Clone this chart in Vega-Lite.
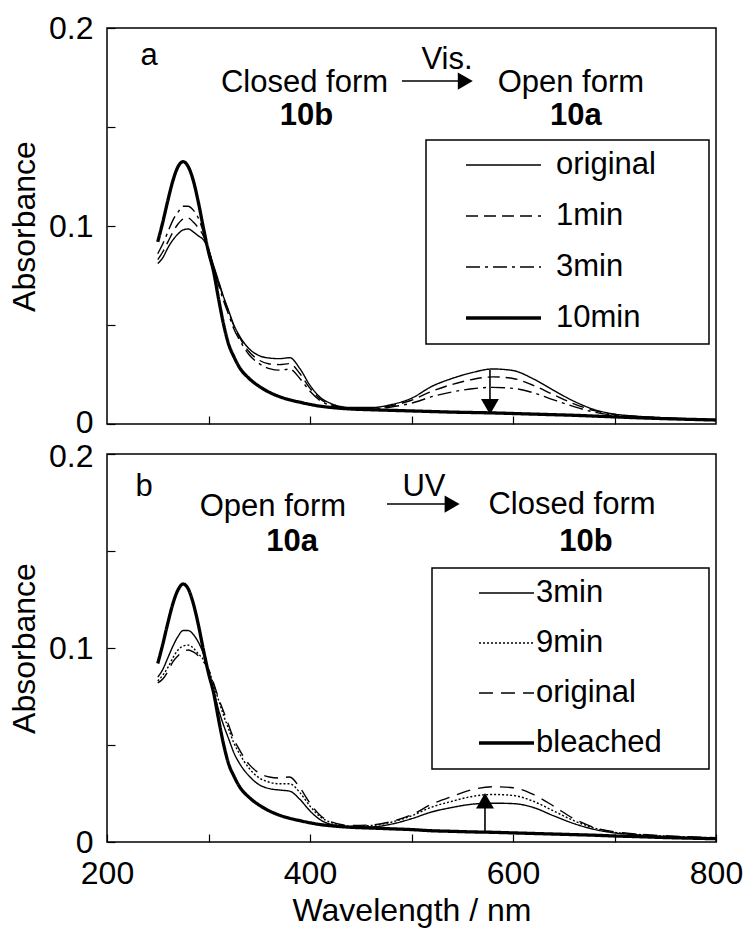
{
  "$schema": "https://vega.github.io/schema/vega-lite/v6.json",
  "background": "white",
  "padding": {"left": 7, "top": 11, "right": 2, "bottom": 2},
  "config": {
    "font": "Liberation Sans",
    "view": {"stroke": "black", "strokeWidth": 1.5},
    "axis": {"domain": false, "grid": false, "tickColor": "black", "tickWidth": 1.2, "labelColor": "black", "titleColor": "black", "labelFontSize": 32, "titleFontSize": 32, "titleFontWeight": "normal", "labelFont": "Liberation Sans", "titleFont": "Liberation Sans", "labelFlush": false},
    "legend": {"labelFont": "Liberation Sans", "labelColor": "black"}
  },
  "spacing": 30,
  "bounds": "flush",
  "resolve": {"scale": {"x": "independent", "y": "independent", "strokeDash": "independent"}, "legend": {"strokeDash": "independent"}},
  "datasets": {
    "a": [
      {"series":"10min","wavelength":250,"absorbance":0.092},{"series":"10min","wavelength":255,"absorbance":0.102},{"series":"10min","wavelength":260,"absorbance":0.113},{"series":"10min","wavelength":265,"absorbance":0.123},{"series":"10min","wavelength":270,"absorbance":0.130},{"series":"10min","wavelength":275,"absorbance":0.1325},{"series":"10min","wavelength":280,"absorbance":0.130},{"series":"10min","wavelength":285,"absorbance":0.123},{"series":"10min","wavelength":290,"absorbance":0.112},{"series":"10min","wavelength":295,"absorbance":0.099},{"series":"10min","wavelength":300,"absorbance":0.087},{"series":"10min","wavelength":305,"absorbance":0.077},{"series":"10min","wavelength":310,"absorbance":0.063},{"series":"10min","wavelength":315,"absorbance":0.050},{"series":"10min","wavelength":320,"absorbance":0.040},{"series":"10min","wavelength":325,"absorbance":0.034},{"series":"10min","wavelength":330,"absorbance":0.029},{"series":"10min","wavelength":340,"absorbance":0.023},{"series":"10min","wavelength":350,"absorbance":0.019},{"series":"10min","wavelength":360,"absorbance":0.016},{"series":"10min","wavelength":370,"absorbance":0.0138},{"series":"10min","wavelength":380,"absorbance":0.0122},{"series":"10min","wavelength":390,"absorbance":0.011},{"series":"10min","wavelength":400,"absorbance":0.0099},{"series":"10min","wavelength":410,"absorbance":0.009},{"series":"10min","wavelength":420,"absorbance":0.0084},{"series":"10min","wavelength":440,"absorbance":0.0076},{"series":"10min","wavelength":460,"absorbance":0.0072},{"series":"10min","wavelength":480,"absorbance":0.0069},{"series":"10min","wavelength":500,"absorbance":0.0066},{"series":"10min","wavelength":520,"absorbance":0.0063},{"series":"10min","wavelength":540,"absorbance":0.006},{"series":"10min","wavelength":560,"absorbance":0.0058},{"series":"10min","wavelength":580,"absorbance":0.0056},{"series":"10min","wavelength":600,"absorbance":0.0053},{"series":"10min","wavelength":620,"absorbance":0.005},{"series":"10min","wavelength":640,"absorbance":0.0047},{"series":"10min","wavelength":660,"absorbance":0.0044},{"series":"10min","wavelength":680,"absorbance":0.004},{"series":"10min","wavelength":700,"absorbance":0.0036},{"series":"10min","wavelength":720,"absorbance":0.0032},{"series":"10min","wavelength":750,"absorbance":0.0027},{"series":"10min","wavelength":800,"absorbance":0.002},
      {"series":"original","wavelength":250,"absorbance":0.081},{"series":"original","wavelength":255,"absorbance":0.084},{"series":"original","wavelength":260,"absorbance":0.089},{"series":"original","wavelength":265,"absorbance":0.093},{"series":"original","wavelength":270,"absorbance":0.096},{"series":"original","wavelength":275,"absorbance":0.098},{"series":"original","wavelength":280,"absorbance":0.0985},{"series":"original","wavelength":285,"absorbance":0.097},{"series":"original","wavelength":290,"absorbance":0.095},{"series":"original","wavelength":295,"absorbance":0.093},{"series":"original","wavelength":300,"absorbance":0.088},{"series":"original","wavelength":305,"absorbance":0.080},{"series":"original","wavelength":310,"absorbance":0.072},{"series":"original","wavelength":315,"absorbance":0.064},{"series":"original","wavelength":320,"absorbance":0.057},{"series":"original","wavelength":325,"absorbance":0.050},{"series":"original","wavelength":330,"absorbance":0.045},{"series":"original","wavelength":340,"absorbance":0.038},{"series":"original","wavelength":350,"absorbance":0.0345},{"series":"original","wavelength":360,"absorbance":0.0333},{"series":"original","wavelength":370,"absorbance":0.033},{"series":"original","wavelength":380,"absorbance":0.0335},{"series":"original","wavelength":390,"absorbance":0.028},{"series":"original","wavelength":400,"absorbance":0.0195},{"series":"original","wavelength":410,"absorbance":0.0135},{"series":"original","wavelength":420,"absorbance":0.0105},{"series":"original","wavelength":440,"absorbance":0.0083},{"series":"original","wavelength":460,"absorbance":0.0083},{"series":"original","wavelength":480,"absorbance":0.0098},{"series":"original","wavelength":500,"absorbance":0.013},{"series":"original","wavelength":520,"absorbance":0.019},{"series":"original","wavelength":540,"absorbance":0.023},{"series":"original","wavelength":560,"absorbance":0.026},{"series":"original","wavelength":580,"absorbance":0.0278},{"series":"original","wavelength":600,"absorbance":0.027},{"series":"original","wavelength":620,"absorbance":0.0228},{"series":"original","wavelength":640,"absorbance":0.017},{"series":"original","wavelength":660,"absorbance":0.0115},{"series":"original","wavelength":680,"absorbance":0.0073},{"series":"original","wavelength":700,"absorbance":0.005},{"series":"original","wavelength":720,"absorbance":0.004},{"series":"original","wavelength":750,"absorbance":0.0031},{"series":"original","wavelength":800,"absorbance":0.0022},
      {"series":"1min","wavelength":250,"absorbance":0.083},{"series":"1min","wavelength":255,"absorbance":0.087},{"series":"1min","wavelength":260,"absorbance":0.092},{"series":"1min","wavelength":265,"absorbance":0.097},{"series":"1min","wavelength":270,"absorbance":0.101},{"series":"1min","wavelength":275,"absorbance":0.1035},{"series":"1min","wavelength":280,"absorbance":0.104},{"series":"1min","wavelength":285,"absorbance":0.102},{"series":"1min","wavelength":290,"absorbance":0.099},{"series":"1min","wavelength":295,"absorbance":0.095},{"series":"1min","wavelength":300,"absorbance":0.088},{"series":"1min","wavelength":305,"absorbance":0.0795},{"series":"1min","wavelength":310,"absorbance":0.0715},{"series":"1min","wavelength":315,"absorbance":0.0635},{"series":"1min","wavelength":320,"absorbance":0.0565},{"series":"1min","wavelength":325,"absorbance":0.0495},{"series":"1min","wavelength":330,"absorbance":0.0443},{"series":"1min","wavelength":340,"absorbance":0.0365},{"series":"1min","wavelength":350,"absorbance":0.0322},{"series":"1min","wavelength":360,"absorbance":0.0303},{"series":"1min","wavelength":370,"absorbance":0.030},{"series":"1min","wavelength":380,"absorbance":0.0305},{"series":"1min","wavelength":390,"absorbance":0.0255},{"series":"1min","wavelength":400,"absorbance":0.018},{"series":"1min","wavelength":410,"absorbance":0.0127},{"series":"1min","wavelength":420,"absorbance":0.0099},{"series":"1min","wavelength":440,"absorbance":0.008},{"series":"1min","wavelength":460,"absorbance":0.008},{"series":"1min","wavelength":480,"absorbance":0.0092},{"series":"1min","wavelength":500,"absorbance":0.012},{"series":"1min","wavelength":520,"absorbance":0.0165},{"series":"1min","wavelength":540,"absorbance":0.020},{"series":"1min","wavelength":560,"absorbance":0.0225},{"series":"1min","wavelength":580,"absorbance":0.0238},{"series":"1min","wavelength":600,"absorbance":0.023},{"series":"1min","wavelength":620,"absorbance":0.0195},{"series":"1min","wavelength":640,"absorbance":0.0148},{"series":"1min","wavelength":660,"absorbance":0.0102},{"series":"1min","wavelength":680,"absorbance":0.0068},{"series":"1min","wavelength":700,"absorbance":0.0048},{"series":"1min","wavelength":720,"absorbance":0.0039},{"series":"1min","wavelength":750,"absorbance":0.003},{"series":"1min","wavelength":800,"absorbance":0.0022},
      {"series":"3min","wavelength":250,"absorbance":0.086},{"series":"3min","wavelength":255,"absorbance":0.091},{"series":"3min","wavelength":260,"absorbance":0.097},{"series":"3min","wavelength":265,"absorbance":0.103},{"series":"3min","wavelength":270,"absorbance":0.107},{"series":"3min","wavelength":275,"absorbance":0.110},{"series":"3min","wavelength":280,"absorbance":0.110},{"series":"3min","wavelength":285,"absorbance":0.108},{"series":"3min","wavelength":290,"absorbance":0.104},{"series":"3min","wavelength":295,"absorbance":0.097},{"series":"3min","wavelength":300,"absorbance":0.088},{"series":"3min","wavelength":305,"absorbance":0.079},{"series":"3min","wavelength":310,"absorbance":0.070},{"series":"3min","wavelength":315,"absorbance":0.062},{"series":"3min","wavelength":320,"absorbance":0.055},{"series":"3min","wavelength":325,"absorbance":0.048},{"series":"3min","wavelength":330,"absorbance":0.043},{"series":"3min","wavelength":340,"absorbance":0.035},{"series":"3min","wavelength":350,"absorbance":0.0305},{"series":"3min","wavelength":360,"absorbance":0.028},{"series":"3min","wavelength":370,"absorbance":0.0272},{"series":"3min","wavelength":380,"absorbance":0.0277},{"series":"3min","wavelength":390,"absorbance":0.023},{"series":"3min","wavelength":400,"absorbance":0.0165},{"series":"3min","wavelength":410,"absorbance":0.0118},{"series":"3min","wavelength":420,"absorbance":0.0094},{"series":"3min","wavelength":440,"absorbance":0.0078},{"series":"3min","wavelength":460,"absorbance":0.0077},{"series":"3min","wavelength":480,"absorbance":0.0086},{"series":"3min","wavelength":500,"absorbance":0.0105},{"series":"3min","wavelength":520,"absorbance":0.0138},{"series":"3min","wavelength":540,"absorbance":0.0162},{"series":"3min","wavelength":560,"absorbance":0.0178},{"series":"3min","wavelength":580,"absorbance":0.0185},{"series":"3min","wavelength":600,"absorbance":0.018},{"series":"3min","wavelength":620,"absorbance":0.0158},{"series":"3min","wavelength":640,"absorbance":0.0122},{"series":"3min","wavelength":660,"absorbance":0.0088},{"series":"3min","wavelength":680,"absorbance":0.006},{"series":"3min","wavelength":700,"absorbance":0.0044},{"series":"3min","wavelength":720,"absorbance":0.0036},{"series":"3min","wavelength":750,"absorbance":0.0029},{"series":"3min","wavelength":800,"absorbance":0.0021}
    ],
    "b": [
      {"series":"bleached","wavelength":250,"absorbance":0.092},{"series":"bleached","wavelength":255,"absorbance":0.102},{"series":"bleached","wavelength":260,"absorbance":0.113},{"series":"bleached","wavelength":265,"absorbance":0.123},{"series":"bleached","wavelength":270,"absorbance":0.130},{"series":"bleached","wavelength":275,"absorbance":0.133},{"series":"bleached","wavelength":280,"absorbance":0.1305},{"series":"bleached","wavelength":285,"absorbance":0.123},{"series":"bleached","wavelength":290,"absorbance":0.112},{"series":"bleached","wavelength":295,"absorbance":0.099},{"series":"bleached","wavelength":300,"absorbance":0.087},{"series":"bleached","wavelength":305,"absorbance":0.077},{"series":"bleached","wavelength":310,"absorbance":0.063},{"series":"bleached","wavelength":315,"absorbance":0.050},{"series":"bleached","wavelength":320,"absorbance":0.040},{"series":"bleached","wavelength":325,"absorbance":0.034},{"series":"bleached","wavelength":330,"absorbance":0.029},{"series":"bleached","wavelength":340,"absorbance":0.023},{"series":"bleached","wavelength":350,"absorbance":0.019},{"series":"bleached","wavelength":360,"absorbance":0.016},{"series":"bleached","wavelength":370,"absorbance":0.0138},{"series":"bleached","wavelength":380,"absorbance":0.0122},{"series":"bleached","wavelength":390,"absorbance":0.011},{"series":"bleached","wavelength":400,"absorbance":0.0099},{"series":"bleached","wavelength":410,"absorbance":0.009},{"series":"bleached","wavelength":420,"absorbance":0.0084},{"series":"bleached","wavelength":440,"absorbance":0.0076},{"series":"bleached","wavelength":460,"absorbance":0.0072},{"series":"bleached","wavelength":480,"absorbance":0.0068},{"series":"bleached","wavelength":500,"absorbance":0.0064},{"series":"bleached","wavelength":520,"absorbance":0.0058},{"series":"bleached","wavelength":540,"absorbance":0.0055},{"series":"bleached","wavelength":560,"absorbance":0.0052},{"series":"bleached","wavelength":580,"absorbance":0.005},{"series":"bleached","wavelength":600,"absorbance":0.0047},{"series":"bleached","wavelength":620,"absorbance":0.0044},{"series":"bleached","wavelength":640,"absorbance":0.0041},{"series":"bleached","wavelength":660,"absorbance":0.0038},{"series":"bleached","wavelength":680,"absorbance":0.0035},{"series":"bleached","wavelength":700,"absorbance":0.0031},{"series":"bleached","wavelength":720,"absorbance":0.0028},{"series":"bleached","wavelength":750,"absorbance":0.0023},{"series":"bleached","wavelength":800,"absorbance":0.0017},
      {"series":"3min","wavelength":250,"absorbance":0.085},{"series":"3min","wavelength":255,"absorbance":0.089},{"series":"3min","wavelength":260,"absorbance":0.095},{"series":"3min","wavelength":265,"absorbance":0.101},{"series":"3min","wavelength":270,"absorbance":0.106},{"series":"3min","wavelength":275,"absorbance":0.109},{"series":"3min","wavelength":280,"absorbance":0.109},{"series":"3min","wavelength":285,"absorbance":0.107},{"series":"3min","wavelength":290,"absorbance":0.103},{"series":"3min","wavelength":295,"absorbance":0.097},{"series":"3min","wavelength":300,"absorbance":0.088},{"series":"3min","wavelength":305,"absorbance":0.078},{"series":"3min","wavelength":310,"absorbance":0.068},{"series":"3min","wavelength":315,"absorbance":0.060},{"series":"3min","wavelength":320,"absorbance":0.053},{"series":"3min","wavelength":325,"absorbance":0.046},{"series":"3min","wavelength":330,"absorbance":0.041},{"series":"3min","wavelength":340,"absorbance":0.034},{"series":"3min","wavelength":350,"absorbance":0.0295},{"series":"3min","wavelength":360,"absorbance":0.0275},{"series":"3min","wavelength":370,"absorbance":0.0268},{"series":"3min","wavelength":380,"absorbance":0.0262},{"series":"3min","wavelength":390,"absorbance":0.022},{"series":"3min","wavelength":400,"absorbance":0.016},{"series":"3min","wavelength":410,"absorbance":0.0115},{"series":"3min","wavelength":420,"absorbance":0.0092},{"series":"3min","wavelength":440,"absorbance":0.0078},{"series":"3min","wavelength":460,"absorbance":0.0078},{"series":"3min","wavelength":480,"absorbance":0.0092},{"series":"3min","wavelength":500,"absorbance":0.012},{"series":"3min","wavelength":520,"absorbance":0.0155},{"series":"3min","wavelength":540,"absorbance":0.0178},{"series":"3min","wavelength":560,"absorbance":0.0195},{"series":"3min","wavelength":580,"absorbance":0.020},{"series":"3min","wavelength":600,"absorbance":0.0198},{"series":"3min","wavelength":620,"absorbance":0.0178},{"series":"3min","wavelength":640,"absorbance":0.0135},{"series":"3min","wavelength":660,"absorbance":0.0095},{"series":"3min","wavelength":680,"absorbance":0.0065},{"series":"3min","wavelength":700,"absorbance":0.0047},{"series":"3min","wavelength":720,"absorbance":0.0038},{"series":"3min","wavelength":750,"absorbance":0.0028},{"series":"3min","wavelength":800,"absorbance":0.0018},
      {"series":"9min","wavelength":250,"absorbance":0.083},{"series":"9min","wavelength":255,"absorbance":0.086},{"series":"9min","wavelength":260,"absorbance":0.090},{"series":"9min","wavelength":265,"absorbance":0.095},{"series":"9min","wavelength":270,"absorbance":0.099},{"series":"9min","wavelength":275,"absorbance":0.101},{"series":"9min","wavelength":280,"absorbance":0.1015},{"series":"9min","wavelength":285,"absorbance":0.100},{"series":"9min","wavelength":290,"absorbance":0.097},{"series":"9min","wavelength":295,"absorbance":0.094},{"series":"9min","wavelength":300,"absorbance":0.089},{"series":"9min","wavelength":305,"absorbance":0.081},{"series":"9min","wavelength":310,"absorbance":0.073},{"series":"9min","wavelength":315,"absorbance":0.065},{"series":"9min","wavelength":320,"absorbance":0.058},{"series":"9min","wavelength":325,"absorbance":0.051},{"series":"9min","wavelength":330,"absorbance":0.046},{"series":"9min","wavelength":340,"absorbance":0.038},{"series":"9min","wavelength":350,"absorbance":0.033},{"series":"9min","wavelength":360,"absorbance":0.0308},{"series":"9min","wavelength":370,"absorbance":0.030},{"series":"9min","wavelength":380,"absorbance":0.030},{"series":"9min","wavelength":390,"absorbance":0.0255},{"series":"9min","wavelength":400,"absorbance":0.0185},{"series":"9min","wavelength":410,"absorbance":0.013},{"series":"9min","wavelength":420,"absorbance":0.0102},{"series":"9min","wavelength":440,"absorbance":0.0082},{"series":"9min","wavelength":460,"absorbance":0.0085},{"series":"9min","wavelength":480,"absorbance":0.0102},{"series":"9min","wavelength":500,"absorbance":0.0135},{"series":"9min","wavelength":520,"absorbance":0.018},{"series":"9min","wavelength":540,"absorbance":0.021},{"series":"9min","wavelength":560,"absorbance":0.0235},{"series":"9min","wavelength":580,"absorbance":0.0245},{"series":"9min","wavelength":600,"absorbance":0.024},{"series":"9min","wavelength":620,"absorbance":0.021},{"series":"9min","wavelength":640,"absorbance":0.016},{"series":"9min","wavelength":660,"absorbance":0.011},{"series":"9min","wavelength":680,"absorbance":0.0072},{"series":"9min","wavelength":700,"absorbance":0.005},{"series":"9min","wavelength":720,"absorbance":0.004},{"series":"9min","wavelength":750,"absorbance":0.003},{"series":"9min","wavelength":800,"absorbance":0.002},
      {"series":"original","wavelength":250,"absorbance":0.082},{"series":"original","wavelength":255,"absorbance":0.084},{"series":"original","wavelength":260,"absorbance":0.088},{"series":"original","wavelength":265,"absorbance":0.093},{"series":"original","wavelength":270,"absorbance":0.096},{"series":"original","wavelength":275,"absorbance":0.098},{"series":"original","wavelength":280,"absorbance":0.099},{"series":"original","wavelength":285,"absorbance":0.098},{"series":"original","wavelength":290,"absorbance":0.096},{"series":"original","wavelength":295,"absorbance":0.093},{"series":"original","wavelength":300,"absorbance":0.089},{"series":"original","wavelength":305,"absorbance":0.082},{"series":"original","wavelength":310,"absorbance":0.074},{"series":"original","wavelength":315,"absorbance":0.067},{"series":"original","wavelength":320,"absorbance":0.060},{"series":"original","wavelength":325,"absorbance":0.053},{"series":"original","wavelength":330,"absorbance":0.048},{"series":"original","wavelength":340,"absorbance":0.040},{"series":"original","wavelength":350,"absorbance":0.0355},{"series":"original","wavelength":360,"absorbance":0.0335},{"series":"original","wavelength":370,"absorbance":0.033},{"series":"original","wavelength":380,"absorbance":0.0335},{"series":"original","wavelength":390,"absorbance":0.028},{"series":"original","wavelength":400,"absorbance":0.020},{"series":"original","wavelength":410,"absorbance":0.0138},{"series":"original","wavelength":420,"absorbance":0.0105},{"series":"original","wavelength":440,"absorbance":0.0085},{"series":"original","wavelength":460,"absorbance":0.0088},{"series":"original","wavelength":480,"absorbance":0.0105},{"series":"original","wavelength":500,"absorbance":0.014},{"series":"original","wavelength":520,"absorbance":0.0195},{"series":"original","wavelength":540,"absorbance":0.0235},{"series":"original","wavelength":560,"absorbance":0.027},{"series":"original","wavelength":580,"absorbance":0.0285},{"series":"original","wavelength":600,"absorbance":0.028},{"series":"original","wavelength":620,"absorbance":0.0245},{"series":"original","wavelength":640,"absorbance":0.0185},{"series":"original","wavelength":660,"absorbance":0.012},{"series":"original","wavelength":680,"absorbance":0.0075},{"series":"original","wavelength":700,"absorbance":0.0052},{"series":"original","wavelength":720,"absorbance":0.0042},{"series":"original","wavelength":750,"absorbance":0.0032},{"series":"original","wavelength":800,"absorbance":0.0022}
    ],
    "annA": [
      {"kind":"text","label":"a","wavelength":241.4,"absorbance":0.1813},
      {"kind":"text","label":"Closed form","wavelength":394.6,"absorbance":0.1677},
      {"kind":"text","label":"Vis.","wavelength":535,"absorbance":0.1793},
      {"kind":"text","label":"Open form","wavelength":657,"absorbance":0.1677},
      {"kind":"bold","label":"10b","wavelength":396.6,"absorbance":0.151},
      {"kind":"bold","label":"10a","wavelength":662,"absorbance":0.151},
      {"kind":"rule","wavelength":490.6,"wavelength2":553,"absorbance":0.1732,"absorbance2":0.1732},
      {"kind":"right","wavelength":553,"absorbance":0.1732},
      {"kind":"rule","wavelength":577.3,"wavelength2":577.3,"absorbance":0.0273,"absorbance2":0.01},
      {"kind":"down","wavelength":577.3,"absorbance":0.0087},
      {"kind":"box","wavelength":514.3,"wavelength2":793.1,"absorbance":0.1434,"absorbance2":0.0404}
    ],
    "annB": [
      {"kind":"text","label":"b","wavelength":236.5,"absorbance":0.1784},
      {"kind":"text","label":"Open form","wavelength":363.5,"absorbance":0.168},
      {"kind":"text","label":"UV","wavelength":512.3,"absorbance":0.1784},
      {"kind":"text","label":"Closed form","wavelength":658.1,"absorbance":0.169},
      {"kind":"bold","label":"10a","wavelength":382.3,"absorbance":0.15},
      {"kind":"bold","label":"10b","wavelength":671.9,"absorbance":0.15},
      {"kind":"rule","wavelength":475.9,"wavelength2":540,"absorbance":0.1742,"absorbance2":0.1742},
      {"kind":"right","wavelength":540,"absorbance":0.1742},
      {"kind":"rule","wavelength":572.4,"wavelength2":572.4,"absorbance":0.0052,"absorbance2":0.02},
      {"kind":"up","wavelength":572.4,"absorbance":0.0213},
      {"kind":"box","wavelength":520.2,"wavelength2":793.1,"absorbance":0.1412,"absorbance2":0.0376}
    ]
  },
  "vconcat": [
    {
      "width": 609,
      "height": 396,
      "layer": [
        {
          "data": {"name": "a"},
          "mark": {"type": "line", "interpolate": "monotone", "color": "black"},
          "encoding": {
            "x": {"field": "wavelength", "type": "quantitative", "scale": {"domain": [200, 800], "nice": false}, "axis": {"values": [300, 400, 500, 600, 700], "labels": false, "title": null, "tickSize": -8}},
            "y": {"field": "absorbance", "type": "quantitative", "scale": {"domain": [0, 0.2], "nice": false}, "axis": {"values": [0, 0.05, 0.1, 0.15, 0.2], "labelExpr": "datum.value === 0 ? '0' : datum.value === 0.1 ? '0.1' : datum.value === 0.2 ? '0.2' : ''", "labelOffset": {"condition": {"test": "datum.value === 0", "value": -2}, "value": 0}, "tickSize": -8, "labelPadding": 22, "title": "Absorbance", "titlePadding": 7}},
            "strokeDash": {"field": "series", "type": "nominal", "scale": {"domain": ["original", "1min", "3min", "10min"], "range": [[1, 0], [12, 6], [14, 5, 3, 5], [1, 0]]},
              "legend": {"orient": "none", "legendX": 319, "legendY": 112, "title": null, "padding": 9, "symbolType": "stroke", "symbolSize": 5625, "symbolStrokeColor": "black", "symbolOffset": 53, "labelOffset": 37, "labelFontSize": 31, "rowPadding": 19, "clipHeight": 32,
                "encode": {"symbols": {"update": {"strokeWidth": {"signal": "datum.value === '10min' ? 3.3 : 1.4"}}}}}},
            "strokeWidth": {"condition": {"test": "datum.series === '10min'", "value": 3.3}, "value": 1.4}
          }
        },
        {
          "data": {"name": "annA"},
          "transform": [{"filter": "datum.kind === 'box'"}],
          "mark": {"type": "rect", "fill": "white", "fillOpacity": 0, "stroke": "black", "strokeWidth": 1.5},
          "encoding": {
            "x": {"field": "wavelength", "type": "quantitative", "scale": {"domain": [200, 800], "nice": false}},
            "x2": {"field": "wavelength2"},
            "y": {"field": "absorbance", "type": "quantitative", "scale": {"domain": [0, 0.2], "nice": false}},
            "y2": {"field": "absorbance2"}
          }
        },
        {
          "data": {"name": "annA"},
          "transform": [{"filter": "datum.kind === 'text'"}],
          "mark": {"type": "text", "align": "center", "baseline": "alphabetic", "fontSize": 31, "font": "Liberation Sans", "color": "black"},
          "encoding": {
            "x": {"field": "wavelength", "type": "quantitative", "scale": {"domain": [200, 800], "nice": false}},
            "y": {"field": "absorbance", "type": "quantitative", "scale": {"domain": [0, 0.2], "nice": false}},
            "text": {"field": "label"}
          }
        },
        {
          "data": {"name": "annA"},
          "transform": [{"filter": "datum.kind === 'bold'"}],
          "mark": {"type": "text", "align": "center", "baseline": "alphabetic", "fontSize": 31, "fontWeight": "bold", "font": "Liberation Sans", "color": "black"},
          "encoding": {
            "x": {"field": "wavelength", "type": "quantitative", "scale": {"domain": [200, 800], "nice": false}},
            "y": {"field": "absorbance", "type": "quantitative", "scale": {"domain": [0, 0.2], "nice": false}},
            "text": {"field": "label"}
          }
        },
        {
          "data": {"name": "annA"},
          "transform": [{"filter": "datum.kind === 'rule'"}],
          "mark": {"type": "rule", "color": "black", "strokeWidth": 1.6},
          "encoding": {
            "x": {"field": "wavelength", "type": "quantitative", "scale": {"domain": [200, 800], "nice": false}},
            "x2": {"field": "wavelength2"},
            "y": {"field": "absorbance", "type": "quantitative", "scale": {"domain": [0, 0.2], "nice": false}},
            "y2": {"field": "absorbance2"}
          }
        },
        {
          "data": {"name": "annA"},
          "transform": [{"filter": "datum.kind === 'right'"}],
          "mark": {"type": "point", "shape": "triangle-right", "filled": true, "size": 300, "color": "black", "opacity": 1},
          "encoding": {
            "x": {"field": "wavelength", "type": "quantitative", "scale": {"domain": [200, 800], "nice": false}},
            "y": {"field": "absorbance", "type": "quantitative", "scale": {"domain": [0, 0.2], "nice": false}}
          }
        },
        {
          "data": {"name": "annA"},
          "transform": [{"filter": "datum.kind === 'down'"}],
          "mark": {"type": "point", "shape": "triangle-down", "filled": true, "size": 320, "color": "black", "opacity": 1},
          "encoding": {
            "x": {"field": "wavelength", "type": "quantitative", "scale": {"domain": [200, 800], "nice": false}},
            "y": {"field": "absorbance", "type": "quantitative", "scale": {"domain": [0, 0.2], "nice": false}}
          }
        }
      ]
    },
    {
      "width": 609,
      "height": 388,
      "layer": [
        {
          "data": {"name": "b"},
          "mark": {"type": "line", "interpolate": "monotone", "color": "black"},
          "encoding": {
            "x": {"field": "wavelength", "type": "quantitative", "scale": {"domain": [200, 800], "nice": false}, "axis": {"values": [200, 300, 400, 500, 600, 700, 800], "labelExpr": "datum.value % 200 === 0 ? datum.label : ''", "tickSize": -8, "labelPadding": 24, "title": "Wavelength / nm", "titlePadding": 6}},
            "y": {"field": "absorbance", "type": "quantitative", "scale": {"domain": [0, 0.2], "nice": false}, "axis": {"values": [0, 0.05, 0.1, 0.15, 0.2], "labelExpr": "datum.value === 0 ? '0' : datum.value === 0.1 ? '0.1' : datum.value === 0.2 ? '0.2' : ''", "labelOffset": {"condition": {"test": "datum.value === 0.2", "value": 2}, "value": 0}, "tickSize": -8, "labelPadding": 22, "title": "Absorbance", "titlePadding": 7}},
            "strokeDash": {"field": "series", "type": "nominal", "scale": {"domain": ["3min", "9min", "original", "bleached"], "range": [[1, 0], [2, 2], [14, 8], [1, 0]]},
              "legend": {"orient": "none", "legendX": 325, "legendY": 114, "title": null, "padding": 9, "symbolType": "stroke", "symbolSize": 3025, "symbolStrokeColor": "black", "symbolOffset": 50, "labelOffset": 14, "labelFontSize": 31, "rowPadding": 18, "clipHeight": 32,
                "encode": {"symbols": {"update": {"strokeWidth": {"signal": "datum.value === 'bleached' ? 3.3 : 1.4"}}}}}},
            "strokeWidth": {"condition": {"test": "datum.series === 'bleached'", "value": 3.3}, "value": 1.4}
          }
        },
        {
          "data": {"name": "annB"},
          "transform": [{"filter": "datum.kind === 'box'"}],
          "mark": {"type": "rect", "fill": "white", "fillOpacity": 0, "stroke": "black", "strokeWidth": 1.5},
          "encoding": {
            "x": {"field": "wavelength", "type": "quantitative", "scale": {"domain": [200, 800], "nice": false}},
            "x2": {"field": "wavelength2"},
            "y": {"field": "absorbance", "type": "quantitative", "scale": {"domain": [0, 0.2], "nice": false}},
            "y2": {"field": "absorbance2"}
          }
        },
        {
          "data": {"name": "annB"},
          "transform": [{"filter": "datum.kind === 'text'"}],
          "mark": {"type": "text", "align": "center", "baseline": "alphabetic", "fontSize": 31, "font": "Liberation Sans", "color": "black"},
          "encoding": {
            "x": {"field": "wavelength", "type": "quantitative", "scale": {"domain": [200, 800], "nice": false}},
            "y": {"field": "absorbance", "type": "quantitative", "scale": {"domain": [0, 0.2], "nice": false}},
            "text": {"field": "label"}
          }
        },
        {
          "data": {"name": "annB"},
          "transform": [{"filter": "datum.kind === 'bold'"}],
          "mark": {"type": "text", "align": "center", "baseline": "alphabetic", "fontSize": 31, "fontWeight": "bold", "font": "Liberation Sans", "color": "black"},
          "encoding": {
            "x": {"field": "wavelength", "type": "quantitative", "scale": {"domain": [200, 800], "nice": false}},
            "y": {"field": "absorbance", "type": "quantitative", "scale": {"domain": [0, 0.2], "nice": false}},
            "text": {"field": "label"}
          }
        },
        {
          "data": {"name": "annB"},
          "transform": [{"filter": "datum.kind === 'rule'"}],
          "mark": {"type": "rule", "color": "black", "strokeWidth": 1.6},
          "encoding": {
            "x": {"field": "wavelength", "type": "quantitative", "scale": {"domain": [200, 800], "nice": false}},
            "x2": {"field": "wavelength2"},
            "y": {"field": "absorbance", "type": "quantitative", "scale": {"domain": [0, 0.2], "nice": false}},
            "y2": {"field": "absorbance2"}
          }
        },
        {
          "data": {"name": "annB"},
          "transform": [{"filter": "datum.kind === 'right'"}],
          "mark": {"type": "point", "shape": "triangle-right", "filled": true, "size": 300, "color": "black", "opacity": 1},
          "encoding": {
            "x": {"field": "wavelength", "type": "quantitative", "scale": {"domain": [200, 800], "nice": false}},
            "y": {"field": "absorbance", "type": "quantitative", "scale": {"domain": [0, 0.2], "nice": false}}
          }
        },
        {
          "data": {"name": "annB"},
          "transform": [{"filter": "datum.kind === 'up'"}],
          "mark": {"type": "point", "shape": "triangle-up", "filled": true, "size": 320, "color": "black", "opacity": 1},
          "encoding": {
            "x": {"field": "wavelength", "type": "quantitative", "scale": {"domain": [200, 800], "nice": false}},
            "y": {"field": "absorbance", "type": "quantitative", "scale": {"domain": [0, 0.2], "nice": false}}
          }
        }
      ]
    }
  ]
}
